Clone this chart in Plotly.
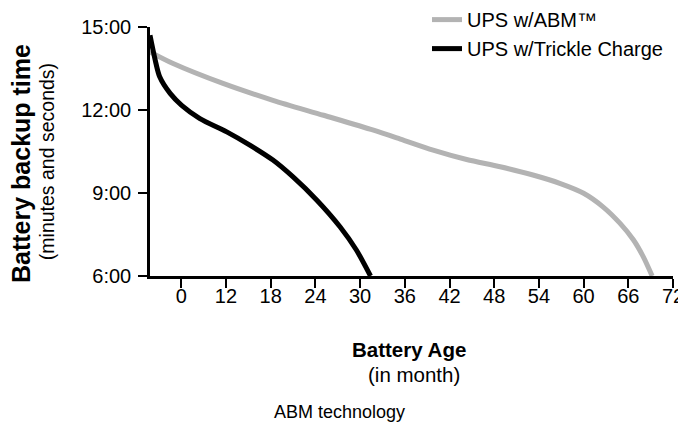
import plotly.graph_objects as go

# Axis positions (uniformly spaced ticks; first tick is labelled "0")
tick_pos = [6, 12, 18, 24, 30, 36, 42, 48, 54, 60, 66, 72]
tick_labels = ["0", "12", "18", "24", "30", "36", "42", "48", "54", "60", "66", "72"]

y_tick_vals = [6, 9, 12, 15]
y_tick_labels = ["6:00", "9:00", "12:00", "15:00"]

# UPS w/ABM (grey) – backup minutes vs. axis position
abm_x = [1.8, 4.9, 11.6, 18.3, 25.1, 31.8, 35.4, 39.8, 44.3, 48.8, 53.2, 56.8, 60.0, 62.6, 64.9, 66.7, 68.0, 69.2]
abm_y = [14.10, 13.68, 12.96, 12.35, 11.81, 11.27, 10.95, 10.55, 10.21, 9.95, 9.65, 9.35, 8.99, 8.50, 7.90, 7.30, 6.70, 6.0]

# UPS w/Trickle Charge (black)
tc_x = [1.8, 2.5, 3.1, 4.5, 6.05, 8.5, 12.1, 15.2, 18.3, 21.0, 24.2, 27.3, 29.5, 31.4]
tc_y = [14.70, 13.80, 13.20, 12.60, 12.17, 11.69, 11.21, 10.73, 10.19, 9.58, 8.74, 7.78, 6.94, 6.0]

FONT = "Liberation Sans, Arial, sans-serif"

# the page body adds an 8px offset, so the figure is sized to the visible area
W, H = 678, 417

fig = go.Figure()
fig.add_trace(go.Scatter(x=abm_x, y=abm_y, mode="lines", name="UPS w/ABM™",
                         line=dict(color="#b3b3b3", width=5, shape="spline", smoothing=0.8)))
fig.add_trace(go.Scatter(x=tc_x, y=tc_y, mode="lines", name="UPS w/Trickle Charge",
                         line=dict(color="#000000", width=5, shape="spline", smoothing=0.8)))

axis_common = dict(showgrid=False, zeroline=False, automargin=False)
fig.update_layout(
    width=W, height=H,
    margin=dict(l=142, r=13, t=19, b=149, autoexpand=False),
    paper_bgcolor="white", plot_bgcolor="white",
    font=dict(family=FONT, size=20, color="#000"),
    xaxis=dict(range=[1.8, 72], tickvals=tick_pos, ticktext=tick_labels,
               showline=True, linecolor="#000", linewidth=2.5,
               ticks="outside", ticklen=9, tickwidth=2, tickcolor="#000",
               tickfont=dict(size=20), ticklabelstandoff=-9, **axis_common),
    yaxis=dict(range=[6, 15], tickvals=y_tick_vals, ticktext=y_tick_labels,
               showline=True, linecolor="#000", linewidth=2.5,
               ticks="outside", ticklen=9, tickwidth=2, tickcolor="#000",
               tickfont=dict(size=20), ticklabelstandoff=3, **axis_common),
    xaxis2=dict(range=[1.8, 72], overlaying="x", anchor="y", side="bottom",
                tickvals=tick_pos, ticks="inside", ticklen=9, tickwidth=2, tickcolor="#000",
                showticklabels=False, showline=False, **axis_common),
    yaxis2=dict(range=[6, 15], overlaying="y", anchor="x", side="left",
                tickvals=y_tick_vals, ticks="inside", ticklen=9, tickwidth=2, tickcolor="#000",
                showticklabels=False, showline=False, **axis_common),
    legend=dict(xref="paper", yref="paper", x=(419 - 142) / 523, y=1.108,
                xanchor="left", yanchor="top",
                font=dict(size=20), bgcolor="rgba(0,0,0,0)", tracegroupgap=0),
    annotations=[
        dict(text="<b>Battery backup time</b>", xref="paper", yref="paper",
             x=-0.247, y=0.453, xanchor="center", yanchor="middle", textangle=-90,
             showarrow=False, font=dict(size=25)),
        dict(text="(minutes and seconds)", xref="paper", yref="paper",
             x=-0.197, y=0.461, xanchor="center", yanchor="middle", textangle=-90,
             showarrow=False, font=dict(size=19.5)),
        dict(text="<b>Battery Age</b>", xref="paper", yref="paper",
             x=0.495, y=-0.297, xanchor="center", yanchor="middle",
             showarrow=False, font=dict(size=20.5)),
        dict(text="(in month)", xref="paper", yref="paper",
             x=0.505, y=-0.397, xanchor="center", yanchor="middle",
             showarrow=False, font=dict(size=20.5)),
        dict(text="ABM technology", xref="paper", yref="paper",
             x=(272 - 150) / 523, y=-0.545, xanchor="left", yanchor="middle",
             showarrow=False, font=dict(size=18)),
    ],
)
fig.write_html("out.html")
